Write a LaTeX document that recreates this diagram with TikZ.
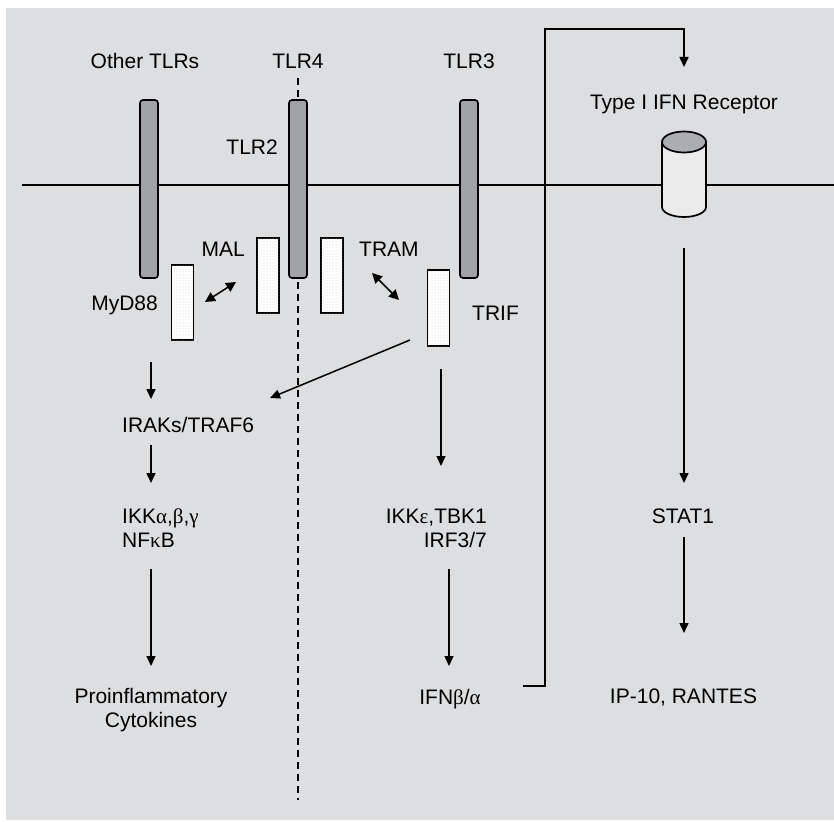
\documentclass[tikz,border=0pt]{standalone}
\usepackage{fontspec}
\setmainfont{Liberation Sans}
\newfontfamily\grk{Liberation Serif}
\usetikzlibrary{arrows.meta,patterns}
\definecolor{bgcol}{RGB}{221,222,224}
\definecolor{barcol}{RGB}{161,162,166}
\definecolor{cylcol}{RGB}{234,234,235}
\definecolor{cyltop}{RGB}{172,173,177}
\begin{document}
\begin{tikzpicture}[x=1pt,y=-1pt,
  lbl/.style={inner sep=0pt, font=\fontsize{21}{25}\selectfont},
  tlrbar/.style={draw, line width=1.6pt, fill=barcol, rounded corners=3pt, minimum width=18pt, minimum height=178pt, inner sep=0pt},
  adapter/.style={draw, line width=1.7pt, fill=white, postaction={pattern=dots, pattern color=gray!40}, minimum width=22pt, minimum height=75pt, inner sep=0pt},
  conn/.style={line width=1.5pt, -{Triangle[length=10pt,width=9pt]}},
  dconn/.style={line width=1.5pt, {Triangle[length=10pt,width=10pt]}-{Triangle[length=10pt,width=10pt]}},
  memb/.style={line width=1.5pt}]
\useasboundingbox (0,0) rectangle (834,821);
\fill[bgcol] (6,8) rectangle (834,820);

% membrane and TLR4 dashed divider
\coordinate (mleft) at (22,185);
\coordinate (mright) at (834,185);
\draw[memb] (mleft) -- (mright);
\coordinate (dtop) at (298,78);
\coordinate (dbot) at (298,800);
\draw[line width=1.5pt, dash pattern=on 7pt off 5pt] (dtop) -- (dbot);

% receptors
\node[tlrbar] (othbar) at (149,189) {};
\node[tlrbar] (tlr4bar) at (298,189) {};
\node[tlrbar] (tlr3bar) at (469,189) {};

% adapters
\node[adapter, minimum height=75pt] (myd88box) at (182.5,302.5) {};
\node[adapter] (malbox) at (268,275.5) {};
\node[adapter] (trambox) at (332,275.5) {};
\node[adapter, minimum height=76pt] (trifbox) at (438.5,308) {};

% cylinder receptor
\fill[cylcol] (662,142) -- (662,207) arc[start angle=180,end angle=0,x radius=22,y radius=10] -- (706,142) -- cycle;
\draw[line width=1.7pt] (662,142) -- (662,207) arc[start angle=180,end angle=0,x radius=22,y radius=10] -- (706,142);
\draw[line width=1.7pt, fill=cyltop] (684,142) ellipse[x radius=22,y radius=10.5];
\coordinate (ifnr) at (684,142);

% labels
\node[lbl, anchor=base] (lothers) at (145,69) {Other TLRs};
\node[lbl, anchor=base] (ltlr4) at (298,69) {TLR4};
\node[lbl, anchor=base] (ltlr3) at (469,69) {TLR3};
\node[lbl, anchor=base east] (ltlr2) at (278,154) {TLR2};
\node[lbl, anchor=base] (lifnr) at (684,110) {Type I IFN Receptor};
\node[lbl, anchor=base east] (lmal) at (245,256) {MAL};
\node[lbl, anchor=base west] (ltram) at (359,256) {TRAM};
\node[lbl, anchor=base east] (lmyd) at (158,310) {MyD88};
\node[lbl, anchor=base west] (ltrif) at (472,320) {TRIF};
\node[lbl, anchor=base west] (lirak) at (122,432) {IRAKs/TRAF6};
\node[lbl, anchor=base west] (likka) at (122,523) {IKK{\grk α},{\grk β},{\grk γ}};
\node[lbl, anchor=base west] (lnfkb) at (122,547) {NF{\grk κ}B};
\node[lbl, anchor=base] (lpro) at (151,703) {Proinflammatory};
\node[lbl, anchor=base] (lcyto) at (151,727) {Cytokines};
\node[lbl, anchor=base east] (likke) at (487,523) {IKK{\grk ε},TBK1};
\node[lbl, anchor=base east] (lirf) at (487,547) {IRF3/7};
\node[lbl, anchor=base] (lifn) at (450,704) {IFN{\grk β}/{\grk α}};
\node[lbl, anchor=base] (lstat) at (683,523) {STAT1};
\node[lbl, anchor=base] (lip) at (683.5,703) {IP-10, RANTES};

% connectors
\coordinate (a1s) at (151,362); \coordinate (a1e) at (151,399);
\draw[conn] (a1s) -- (a1e);
\coordinate (a2s) at (151,445); \coordinate (a2e) at (151,483);
\draw[conn] (a2s) -- (a2e);
\coordinate (a3s) at (151,569); \coordinate (a3e) at (151,666);
\draw[conn] (a3s) -- (a3e);
\coordinate (trs) at (410,340); \coordinate (tre) at (270,398);
\draw[conn] (trs) -- (tre);
\coordinate (a4s) at (441,369); \coordinate (a4e) at (441,466);
\draw[conn] (a4s) -- (a4e);
\coordinate (a5s) at (449,569); \coordinate (a5e) at (449,666);
\draw[conn] (a5s) -- (a5e);
\coordinate (a6s) at (684,248); \coordinate (a6e) at (684,483);
\draw[conn] (a6s) -- (a6e);
\coordinate (a7s) at (684,537); \coordinate (a7e) at (684,633);
\draw[conn] (a7s) -- (a7e);
\coordinate (fbs) at (523,686); \coordinate (fbc) at (545,29); \coordinate (fbe) at (684,67);
\draw[conn, line width=1.6pt] (fbs) -| (fbc) -| (fbe);
\coordinate (d1s) at (205,302); \coordinate (d1e) at (236,282);
\draw[dconn] (d1s) -- (d1e);
\coordinate (d2s) at (372,273); \coordinate (d2e) at (399,300);
\draw[dconn] (d2s) -- (d2e);
\end{tikzpicture}
\end{document}
